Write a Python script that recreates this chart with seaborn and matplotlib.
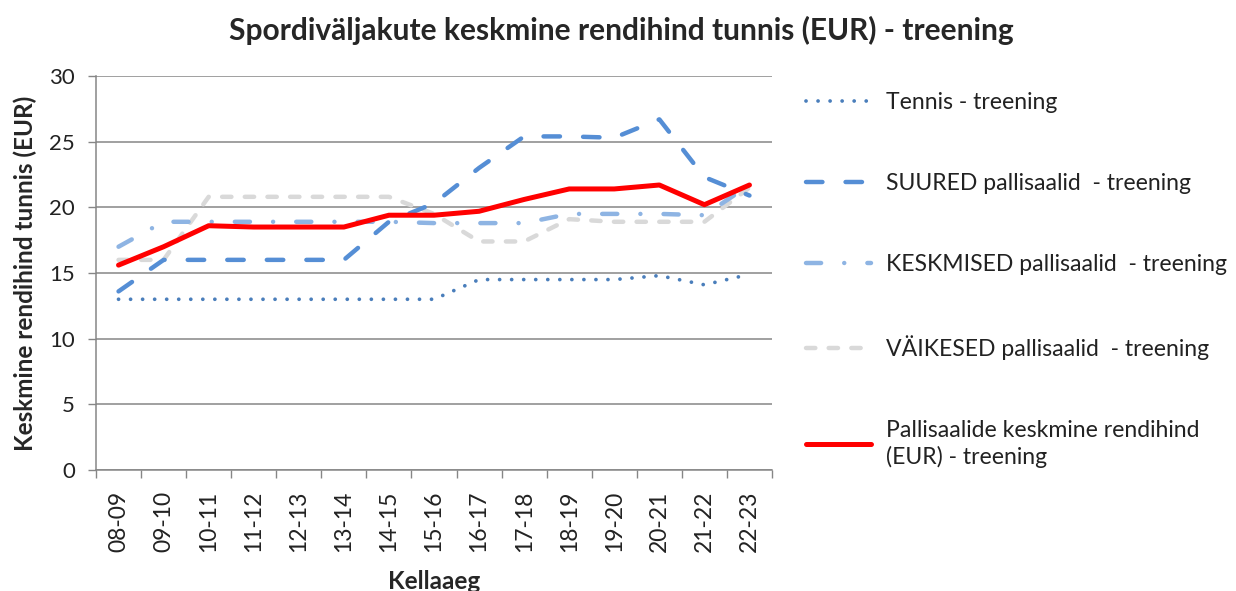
import matplotlib
matplotlib.use("Agg")
import matplotlib.pyplot as plt
import seaborn as sns
import pandas as pd
import numpy as np

categories = ["08-09", "09-10", "10-11", "11-12", "12-13", "13-14", "14-15", "15-16",
              "16-17", "17-18", "18-19", "19-20", "20-21", "21-22", "22-23"]
tennis = [13.0, 13.0, 13.0, 13.0, 13.0, 13.0, 13.0, 13.0, 14.5, 14.5, 14.5, 14.5, 14.8, 14.1, 14.9]
suured = [13.6, 16.0, 16.0, 16.0, 16.0, 16.0, 18.9, 20.3, 23.0, 25.4, 25.4, 25.3, 26.7, 22.3, 20.9]
keskmised = [17.0, 18.9, 18.9, 18.9, 18.9, 18.9, 18.9, 18.8, 18.8, 18.8, 19.5, 19.5, 19.5, 19.4, 21.7]
vaikesed = [16.0, 16.0, 20.8, 20.8, 20.8, 20.8, 20.8, 19.5, 17.4, 17.4, 19.1, 18.9, 18.9, 18.9, 21.5]
keskmine = [15.6, 17.0, 18.6, 18.5, 18.5, 18.5, 19.4, 19.4, 19.7, 20.6, 21.4, 21.4, 21.7, 20.2, 21.7]

labels = ["Tennis - treening",
          "SUURED pallisaalid  - treening",
          "KESKMISED pallisaalid  - treening",
          "VÄIKESED pallisaalid  - treening",
          "Pallisaalide keskmine rendihind\n(EUR) - treening"]

sns.set_theme(style="white")
plt.rcParams["font.family"] = ["Lato", "DejaVu Sans"]

fig = plt.figure(figsize=(12.36, 5.91), dpi=100)
ax = fig.add_axes([96 / 1236, 1 - 470 / 591, (772 - 96) / 1236, (470 - 76) / 591])

x = np.arange(len(categories))
series = [tennis, suured, keskmised, vaikesed, keskmine]
colors = ["#4A7EBB", "#558ED5", "#8EB4E3", "#D9D9D9", "#FF0000"]
widths = [2.7, 3.2, 3.2, 3.2, 3.6]
styles = [(0, (0.01, 3.2)), (0, (3.7, 5.2)), (0, (3.4, 5.2, 0.01, 5.2)), (0, (2.1, 3.0)), "solid"]
zorders = [3, 4, 3, 2, 5]

for vals, col, lw, ls, lab, zo in zip(series, colors, widths, styles, labels, zorders):
    df = pd.DataFrame({"x": x, "y": vals})
    sns.lineplot(data=df, x="x", y="y", ax=ax, color=col, linewidth=lw, label=lab, zorder=zo)
    line = ax.get_lines()[-1]
    line.set_linestyle(ls)
    line.set_dash_capstyle("round")
    line.set_solid_capstyle("round")
    line.set_solid_joinstyle("round")

ax.set_xlim(-0.5, len(categories) - 0.5)
ax.set_ylim(0, 30)
ax.set_yticks(range(0, 31, 5))
ax.set_xticks(x)
ax.set_xticklabels(categories, rotation=90, fontsize=16.5, color="#222222")
ax.set_xticks(np.arange(-0.5, len(categories), 1.0), minor=True)
ax.tick_params(axis="x", which="major", length=0, pad=15)
ax.tick_params(axis="x", which="minor", length=6, width=1, color="#868686", direction="out", bottom=True)
ax.tick_params(axis="y", length=6, width=1, color="#868686", direction="out", left=True, labelsize=16,
               labelcolor="#222222", pad=9)
ax.yaxis.grid(True, color="#868686", linewidth=1.1)
ax.set_axisbelow(True)
for s in ["top", "right"]:
    ax.spines[s].set_visible(False)
for s in ["left", "bottom"]:
    ax.spines[s].set_color("#868686")
    ax.spines[s].set_linewidth(1.1)

ax.set_xlabel("Kellaaeg", fontsize=17.5, fontweight="bold", labelpad=13)
ax.set_ylabel("Keskmine rendihind tunnis (EUR)", fontsize=17.5, fontweight="bold", labelpad=9)
fig.suptitle("Spordiväljakute keskmine rendihind tunnis (EUR) - treening", fontsize=21.5,
             fontweight="bold", x=621 / 1236, y=1 - 30 / 591, va="center")

leg = ax.legend(loc="upper left", bbox_to_anchor=(806 / 1236, 1 - 92 / 591), bbox_transform=fig.transFigure,
                frameon=False, fontsize=16.6, handlelength=2.8, handletextpad=0.66, labelspacing=2.6,
                borderpad=0, borderaxespad=0)
for t in leg.get_texts():
    t.set_color("#222222")
    t.set_linespacing(1.3)

fig.savefig("out.png", dpi=100)
